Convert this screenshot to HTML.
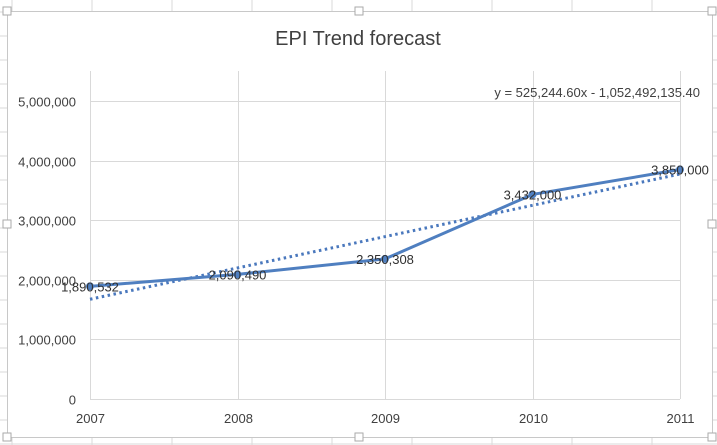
<!DOCTYPE html>
<html><head><meta charset="utf-8"><style>
body{margin:0;width:717px;height:445px;overflow:hidden;background:#fff;font-family:"Liberation Sans",sans-serif}
svg{display:block}
text{font-family:"Liberation Sans",sans-serif;fill:#404040}
</style></head><body>
<svg id="c" width="717" height="445">
<g id="sheet"></g>
<rect x="7.5" y="11.5" width="705" height="426" fill="#fff" stroke="#c8c8c8"/>
<text x="358" y="45" font-size="20" text-anchor="middle">EPI Trend forecast</text>
<g id="grid"></g>
<g id="ylab"></g>
<g id="xlab"></g>
<g id="series"></g>
<text x="700" y="97" font-size="13" text-anchor="end">y = 525,244.60x - 1,052,492,135.40</text>
<rect x="3" y="7" width="8" height="8" fill="#fff" stroke="#aaa"/>
<rect x="3" y="433" width="8" height="8" fill="#fff" stroke="#aaa"/>
<rect x="355" y="7" width="8" height="8" fill="#fff" stroke="#aaa"/>
<rect x="355" y="433" width="8" height="8" fill="#fff" stroke="#aaa"/>
<rect x="3" y="220" width="8" height="8" fill="#fff" stroke="#aaa"/>
<rect x="708" y="220" width="8" height="8" fill="#fff" stroke="#aaa"/>
<rect x="708" y="7" width="8" height="8" fill="#fff" stroke="#aaa"/>
<rect x="708" y="433" width="8" height="8" fill="#fff" stroke="#aaa"/>
</svg>
<script>
const years=[2007,2008,2009,2010,2011];
const values=[1890532,2090490,2350308,3432000,3850000];
const valueLabels=["1,890,532","2,090,490","2,350,308","3,432,000","3,850,000"];
const yTicks=[0,1000000,2000000,3000000,4000000,5000000];
const yTickLabels=["0","1,000,000","2,000,000","3,000,000","4,000,000","5,000,000"];
const slope=525244.6, intercept=-1052492135.4;
const NS="http://www.w3.org/2000/svg";
const X=i=>90+i*147.5;
const Y=v=>399-v*(298/5000000);
function mk(t,a,p){const e=document.createElementNS(NS,t);for(const k in a)e.setAttribute(k,a[k]);p.appendChild(e);return e;}
const sheet=document.getElementById('sheet');
for(let x=12;x<717;x+=80){const l=mk('line',{x1:x,y1:0,x2:x,y2:445,stroke:'#dadada'},sheet);

}
for(let y=12;y<445;y+=24){const l=mk('line',{x1:0,y1:y,x2:717,y2:y,stroke:'#dadada'},sheet);

}
const grid=document.getElementById('grid'),ylab=document.getElementById('ylab'),xlab=document.getElementById('xlab'),ser=document.getElementById('series');
yTicks.forEach((v,i)=>{const y=Math.round(Y(v))+0.5;
const l=mk('line',{x1:90,y1:y,x2:680,y2:y,stroke:'#d9d9d9'},grid);


const t=mk('text',{x:76,y:y+5,'font-size':13,'text-anchor':'end'},ylab);t.textContent=yTickLabels[i];

});
years.forEach((yr,i)=>{const x=Math.round(X(i))+0.5;
const l=mk('line',{x1:x,y1:71,x2:x,y2:399,stroke:'#d9d9d9'},grid);


const t=mk('text',{x:x,y:423,'font-size':13,'text-anchor':'middle'},xlab);t.textContent=yr;

});
const tr=v=>slope*v+intercept;
const tl=mk('line',{x1:X(0),y1:Y(tr(years[0])),x2:X(4),y2:Y(tr(years[4])),stroke:'#4a78bd','stroke-width':3,'stroke-dasharray':'2.5 3.5'},ser);


const pl=mk('polyline',{points:values.map((v,i)=>X(i)+','+Y(v)).join(' '),fill:'none',stroke:'#4f7fc0','stroke-width':3,'stroke-linejoin':'round'},ser);


values.forEach((v,i)=>{const c=mk('circle',{cx:X(i),cy:Y(v),r:4,fill:'#4f7fc0'},ser);


const t=mk('text',{x:X(i),y:Y(v)+5,'font-size':13,'text-anchor':'middle',style:'fill:#303030'},ser);t.textContent=valueLabels[i];

});
</script>
</body></html>
